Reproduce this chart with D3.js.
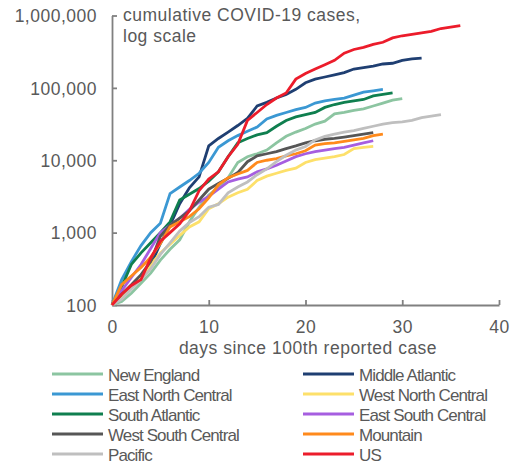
<!DOCTYPE html>
<html>
<head>
<meta charset="utf-8">
<script src="https://cdn.jsdelivr.net/npm/d3@7"></script>
<style>
  body { margin: 0; background: #fff; }
  svg text { font-family: "Liberation Sans", Arial, sans-serif; fill: #595959; }
</style>
</head>
<body>
<div id="chart"></div>
<script>
// cumulative cases by day since the 100th reported case
const newEngland = [100,112,145,200,275,417,589,794,1410,2240,3310,4170,5750,9330,11200,12300,13800,17400,21400,24500,27500,31600,34700,43700,45700,49000,51300,56200,61700,67600,70800];
const middleAtlantic = [100,132,178,240,355,708,1260,2510,4170,5890,15800,20000,24500,30200,38000,56200,63100,72400,81300,95500,117500,131800,141300,151400,162200,182000,190500,199500,213800,218800,239900,251200,257000];
const eastNorthCentral = [100,224,398,661,1000,1350,3470,4270,5250,6610,9330,15100,18600,21900,25100,28800,37200,41700,45700,50100,53700,61700,66100,69200,72400,79400,87100,91200,95500];
const westNorthCentral = [100,126,174,240,355,525,692,912,1200,1410,2140,2510,3090,3550,3980,5250,6030,6610,7240,7760,9330,10200,10700,11200,12000,14500,15100,15500];
const southAtlantic = [100,178,363,525,724,1000,1410,2820,3390,4070,5130,6920,11200,17400,20000,22400,24000,29500,35500,39800,42700,45700,53700,58900,63100,66100,69200,77600,81300,85100];
const eastSouthCentral = [100,158,240,363,603,1000,1260,1580,2090,2630,3160,3980,5010,5500,5890,6920,7590,8510,9770,11200,12300,13200,13800,14500,15100,16200,17400,18600];
const westSouthCentral = [100,141,191,263,398,891,1260,1580,2000,2820,3980,4790,5620,6760,9550,11500,12300,13200,14500,15800,17400,18600,19500,20000,20900,21900,22900,24000];
const mountain = [100,191,251,331,457,708,1200,1410,1660,2140,3020,4570,5750,6460,7240,9330,10000,10500,11500,12300,13500,16200,17000,17400,18200,19100,20000,21900,22900];
const pacific = [100,120,166,224,316,501,724,1050,1380,1660,2240,2450,3550,4270,5010,6310,7590,9550,11700,13800,15500,19100,21400,22900,24500,25700,27500,29500,31600,33100,33900,35500,38900,40700,42700];
const us = [100,141,186,224,447,759,1000,1320,2000,3800,5500,6920,11200,16600,35500,45700,58900,72400,85100,132000,158000,182000,209000,240000,302000,339000,363000,398000,427000,490000,525000,550000,575000,603000,661000,692000,724000];

const seriesNames = ["New England", "Middle Atlantic", "East North Central", "West North Central",
  "South Atlantic", "East South Central", "West South Central", "Mountain", "Pacific", "US"];
const seriesValues = [newEngland, middleAtlantic, eastNorthCentral, westNorthCentral,
  southAtlantic, eastSouthCentral, westSouthCentral, mountain, pacific, us];
const seriesColors = ["#8cc5a1", "#1f3f72", "#3b98d3", "#fde06a", "#0f7f4f",
  "#a65ee0", "#565656", "#ff8a1c", "#bfbfbf", "#ec1c2b"];

const xTicks = [0, 10, 20, 30, 40];
const yTicks = [100, 1000, 10000, 100000, 1000000];

const width = 527;
const height = 463;

const svg = d3.select("#chart").append("svg")
  .attr("width", width)
  .attr("height", height);

const x = d3.scaleLinear().domain([0, 40]).range([112, 499]);
const y = d3.scaleLog().domain([100, 1000000]).range([305, 15.5]);

const axisColor = "#808080";

// y axis, ticks pointing inward
const yAxis = svg.append("g")
  .attr("transform", `translate(${x(0)},0)`)
  .call(d3.axisLeft(y).tickValues(yTicks).tickFormat(d3.format(",")).tickSizeInner(-5).tickSizeOuter(0).tickPadding(15));

// x axis
const xAxis = svg.append("g")
  .attr("transform", `translate(0,${y(100)})`)
  .call(d3.axisBottom(x).tickValues(xTicks).tickSizeInner(-5).tickSizeOuter(0).tickPadding(16));

[yAxis, xAxis].forEach(ax => {
  ax.select(".domain").attr("stroke", axisColor).attr("stroke-width", 1.8);
  ax.selectAll(".tick line").attr("stroke", axisColor).attr("stroke-width", 1.8);
  ax.selectAll(".tick text")
    .attr("fill", "#595959")
    .style("font-size", "17.5px")
    .style("letter-spacing", "0.5px");
});
yAxis.selectAll(".tick text").attr("dy", "0.36em");

// lines
const line = d3.line()
  .x((d, i) => x(i))
  .y(d => y(d));

svg.append("g")
  .selectAll("path")
  .data(seriesValues)
  .join("path")
  .attr("d", d => line(d))
  .attr("fill", "none")
  .attr("stroke", (d, i) => seriesColors[i])
  .attr("stroke-width", 2.8);

// title inside plot
const title = svg.append("text")
  .attr("x", 123)
  .attr("y", 21)
  .style("font-size", "17.5px")
  .style("letter-spacing", "0.5px");
title.append("tspan").attr("x", 123).text("cumulative COVID-19 cases,");
title.append("tspan").attr("x", 123).attr("dy", 21).text("log scale");

// x axis title
svg.append("text")
  .attr("x", 308)
  .attr("y", 354)
  .attr("text-anchor", "middle")
  .style("font-size", "17.5px")
  .style("letter-spacing", "0.5px")
  .text("days since 100th reported case");

// legend, two columns
const legend = svg.append("g");
const legendItem = legend.selectAll("g")
  .data(seriesNames)
  .join("g")
  .attr("transform", (d, i) => `translate(${i % 2 === 0 ? 52 : 303},${374 + Math.floor(i / 2) * 20})`);

legendItem.append("line")
  .attr("x1", 0)
  .attr("x2", 51)
  .attr("stroke", (d, i) => seriesColors[i])
  .attr("stroke-width", 3);

legendItem.append("text")
  .attr("x", 56)
  .attr("y", 6.5)
  .style("font-size", "17px")
  .style("letter-spacing", "-0.9px")
  .text(d => d);
</script>
</body>
</html>
